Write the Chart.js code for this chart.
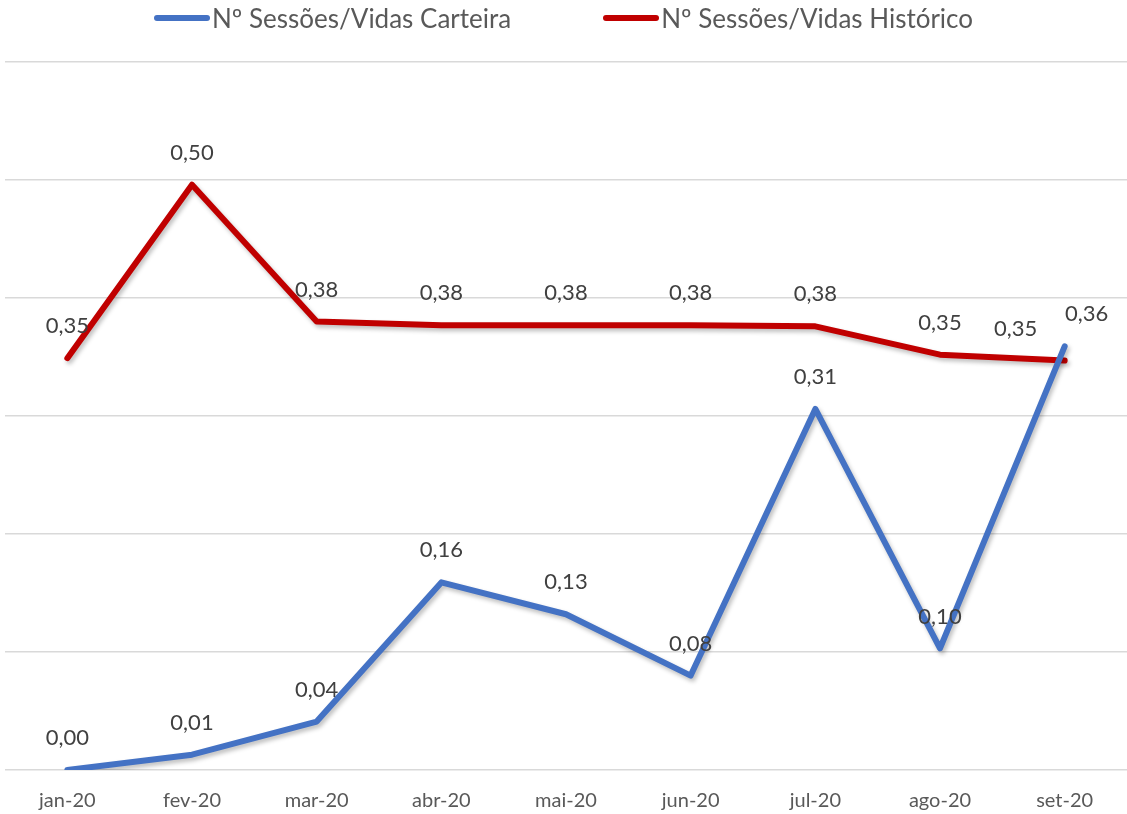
<!DOCTYPE html>
<html>
<head>
<meta charset="utf-8">
<script src="https://cdn.jsdelivr.net/npm/chart.js@4/dist/chart.umd.min.js"></script>
<style>
    html, body { margin: 0; padding: 0; background: #fff; }
    #wrap { position: relative; width: 1127px; height: 814px; }
    #legend {
        position: absolute; top: 0; left: 0; width: 1127px; height: 36px;
        display: flex; justify-content: center; align-items: center;
        font-family: Lato, sans-serif; font-size: 26px; color: #595959;
    }
    .item { display: flex; align-items: center; margin: 0 46px; }
    .swatch { width: 56px; height: 6px; border-radius: 3px; margin-right: 2px; }
</style>
</head>
<body>
<div id="wrap">
    <div id="legend"></div>
    <canvas id="chart" width="1127" height="814"></canvas>
</div>
<script>
const months = ['jan-20', 'fev-20', 'mar-20', 'abr-20', 'mai-20', 'jun-20', 'jul-20', 'ago-20', 'set-20'];
const carteira = [0.00, 0.013, 0.041, 0.159, 0.132, 0.08, 0.306, 0.103, 0.359];
const historico = [0.349, 0.496, 0.38, 0.377, 0.377, 0.377, 0.376, 0.352, 0.347];

const seriesNames = ['Nº Sessões/Vidas Carteira', 'Nº Sessões/Vidas Histórico'];
const seriesColors = ['#4472c4', '#c00000'];

// legend drawn as html so the spacing can match
const legendDiv = document.getElementById('legend');
seriesNames.forEach((name, i) => {
    legendDiv.innerHTML += `<div class="item"><span class="swatch" style="background:${seriesColors[i]}"></span>${name}</div>`;
});

// last labels sit beside the point instead of above it
const lastLabelShift = [22, -49];

const shadowPlugin = {
    id: 'shadow',
    beforeDatasetDraw(chart) {
        const ctx = chart.ctx;
        ctx.save();
        ctx.shadowColor = 'rgba(0, 0, 0, 0.25)';
        ctx.shadowBlur = 4;
        ctx.shadowOffsetX = 2;
        ctx.shadowOffsetY = 3;
    },
    afterDatasetDraw(chart) {
        chart.ctx.restore();
    }
};

const labelPlugin = {
    id: 'valueLabels',
    afterDatasetsDraw(chart) {
        const ctx = chart.ctx;
        ctx.save();
        ctx.font = '22px Lato, sans-serif';
        ctx.fillStyle = '#404040';
        ctx.textAlign = 'center';
        ctx.textBaseline = 'middle';
        chart.data.datasets.forEach((ds, di) => {
            const meta = chart.getDatasetMeta(di);
            meta.data.forEach((pt, i) => {
                let dx = 0;
                if (i === ds.data.length - 1) dx = lastLabelShift[di];
                const txt = ds.data[i].toFixed(2).replace('.', ',');
                ctx.fillText(txt, pt.x + dx, pt.y - 32);
            });
        });
        ctx.restore();
    }
};

const ctx = document.getElementById('chart').getContext('2d');
new Chart(ctx, {
    type: 'line',
    data: {
        labels: months,
        datasets: [
            {
                label: seriesNames[0],
                data: carteira,
                borderColor: seriesColors[0],
                backgroundColor: seriesColors[0],
                borderWidth: 6,
                borderCapStyle: 'round',
                borderJoinStyle: 'round',
                pointRadius: 0,
                tension: 0
            },
            {
                label: seriesNames[1],
                data: historico,
                borderColor: seriesColors[1],
                backgroundColor: seriesColors[1],
                borderWidth: 6,
                borderCapStyle: 'round',
                borderJoinStyle: 'round',
                pointRadius: 0,
                tension: 0
            }
        ]
    },
    options: {
        responsive: false,
        animation: false,
        layout: { padding: { top: 62, left: 5, right: 0, bottom: -18 } },
        plugins: {
            legend: { display: false },
            tooltip: { enabled: false }
        },
        scales: {
            x: {
                offset: true,
                grid: { display: false, drawTicks: false },
                border: { display: false },
                ticks: {
                    padding: 19,
                    color: '#595959',
                    font: { family: 'Lato, sans-serif', size: 20 }
                }
            },
            y: {
                min: 0,
                max: 0.6,
                ticks: { display: false, stepSize: 0.1 },
                grid: { color: '#d9d9d9', lineWidth: 1.5, drawTicks: false },
                border: { display: false }
            }
        }
    },
    plugins: [shadowPlugin, labelPlugin]
});
</script>
</body>
</html>
